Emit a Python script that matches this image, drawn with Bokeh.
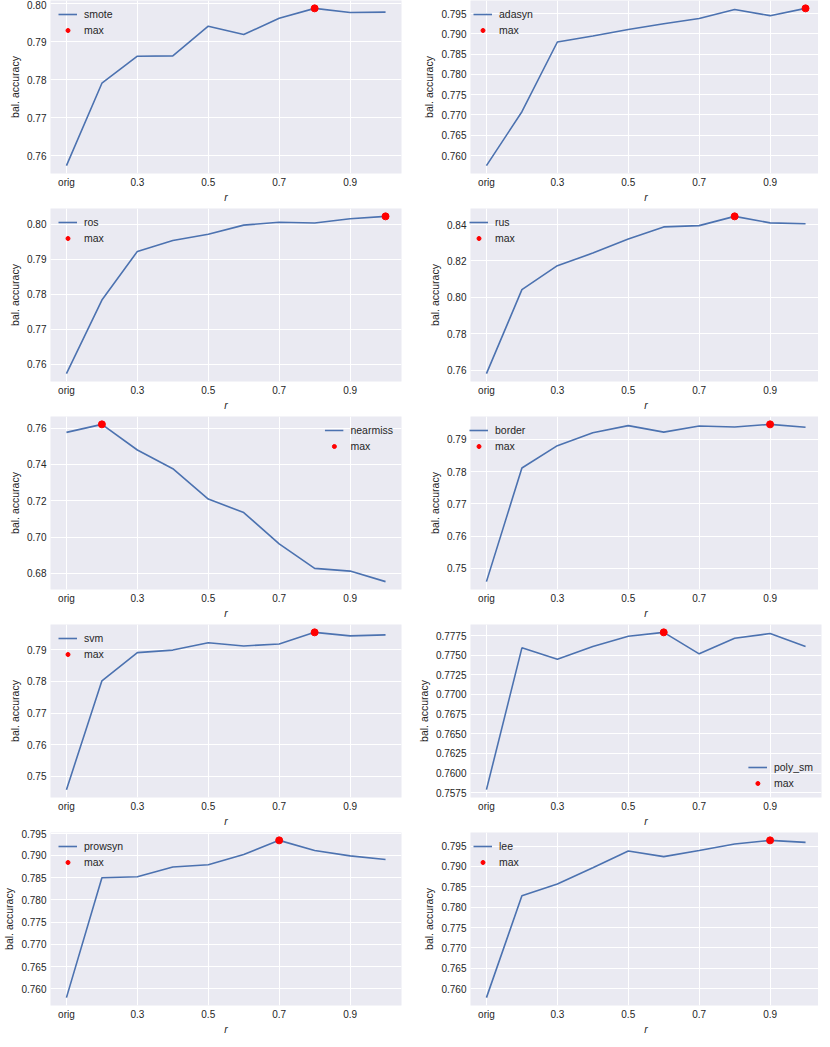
from bokeh.plotting import figure
from bokeh.layouts import gridplot
from bokeh.models import FixedTicker, PrintfTickFormatter, Range1d
from bokeh.embed import file_html
from bokeh.resources import INLINE

# ---- data ----
r_values = [0.1, 0.2, 0.3, 0.4, 0.5, 0.6, 0.7, 0.8, 0.9, 1.0]
x_ticks = [0.1, 0.3, 0.5, 0.7, 0.9]
x_tick_labels = ["orig", "0.3", "0.5", "0.7", "0.9"]

smote = [0.7574, 0.7791, 0.7862, 0.7863, 0.7941, 0.7919, 0.7962, 0.7988, 0.7977, 0.7978]
adasyn = [0.7575, 0.7708, 0.7880, 0.7895, 0.7911, 0.7925, 0.7938, 0.7960, 0.7945, 0.7963]
ros = [0.7573, 0.7783, 0.7922, 0.7953, 0.7971, 0.7997, 0.8005, 0.8003, 0.8015, 0.8022]
rus = [0.7580, 0.8042, 0.8174, 0.8243, 0.8320, 0.8387, 0.8394, 0.8445, 0.8409, 0.8404]
nearmiss = [0.7576, 0.7620, 0.7479, 0.7376, 0.7209, 0.7135, 0.6963, 0.6828, 0.6813, 0.6755]
border = [0.7459, 0.7811, 0.7880, 0.7920, 0.7942, 0.7922, 0.7941, 0.7938, 0.7946, 0.7937]
svm = [0.7458, 0.7802, 0.7891, 0.7899, 0.7922, 0.7912, 0.7918, 0.7955, 0.7944, 0.7947]
poly_sm = [0.7579, 0.77593, 0.77449, 0.7761, 0.7774, 0.77790, 0.77517, 0.77716, 0.77775, 0.7761]
prowsyn = [0.7580, 0.7850, 0.7852, 0.7874, 0.7879, 0.7902, 0.7934, 0.7911, 0.7899, 0.7891]
lee = [0.7578, 0.7828, 0.7857, 0.7897, 0.7938, 0.7924, 0.7939, 0.7955, 0.7964, 0.7959]

y_ticks_smote = [0.76, 0.77, 0.78, 0.79, 0.80]
y_ticks_adasyn = [0.760, 0.765, 0.770, 0.775, 0.780, 0.785, 0.790, 0.795]
y_ticks_ros = [0.76, 0.77, 0.78, 0.79, 0.80]
y_ticks_rus = [0.76, 0.78, 0.80, 0.82, 0.84]
y_ticks_nearmiss = [0.68, 0.70, 0.72, 0.74, 0.76]
y_ticks_border = [0.75, 0.76, 0.77, 0.78, 0.79]
y_ticks_svm = [0.75, 0.76, 0.77, 0.78, 0.79]
y_ticks_poly_sm = [0.7575, 0.7600, 0.7625, 0.7650, 0.7675, 0.7700, 0.7725, 0.7750, 0.7775]
y_ticks_prowsyn = [0.760, 0.765, 0.770, 0.775, 0.780, 0.785, 0.790, 0.795]
y_ticks_lee = [0.760, 0.765, 0.770, 0.775, 0.780, 0.785, 0.790, 0.795]

panels = [
    ("smote", smote, y_ticks_smote, "%.2f", "top_left"),
    ("adasyn", adasyn, y_ticks_adasyn, "%.3f", "top_left"),
    ("ros", ros, y_ticks_ros, "%.2f", "top_left"),
    ("rus", rus, y_ticks_rus, "%.2f", "top_left"),
    ("nearmiss", nearmiss, y_ticks_nearmiss, "%.2f", "top_right"),
    ("border", border, y_ticks_border, "%.2f", "top_left"),
    ("svm", svm, y_ticks_svm, "%.2f", "top_left"),
    ("poly_sm", poly_sm, y_ticks_poly_sm, "%.4f", "bottom_right"),
    ("prowsyn", prowsyn, y_ticks_prowsyn, "%.3f", "top_left"),
    ("lee", lee, y_ticks_lee, "%.3f", "top_left"),
]

FONT = "Liberation Sans"
TXT = "#262626"
BG = "#EAEAF2"
LINE = "#4C72B0"


def make_panel(i, name, vals, yticks, fmt, loc):
    left_col = (i % 2 == 0)
    first_row = i < 2
    xr0, xr1 = min(r_values), max(r_values)
    xp = (xr1 - xr0) * 0.05
    y0, y1 = min(vals), max(vals)
    yp = (y1 - y0) * 0.05
    p = figure(
        frame_width=351,
        frame_height=173,
        x_range=Range1d(xr0 - xp, xr1 + xp),
        y_range=Range1d(y0 - yp, y1 + yp),
        output_backend="svg",
        toolbar_location=None,
        min_border_left=41 if left_col else 50,
        min_border_right=13 if left_col else 3,
        min_border_top=0 if first_row else 3,
        min_border_bottom=20,
        background_fill_color=BG,
        border_fill_color="white",
        outline_line_color=None,
    )
    p.line(r_values, vals, line_color=LINE, line_width=1.6, legend_label=name)
    k = max(range(len(vals)), key=lambda j: vals[j])
    p.scatter([r_values[k]], [vals[k]], size=7, color="red", legend_label="max")

    p.xaxis.ticker = FixedTicker(ticks=x_ticks)
    p.xaxis.major_label_overrides = {t: lab for t, lab in zip(x_ticks, x_tick_labels)}
    p.yaxis.ticker = FixedTicker(ticks=yticks)
    p.yaxis.formatter = PrintfTickFormatter(format=fmt)

    p.xaxis.axis_label = "r"
    p.yaxis.axis_label = "bal. accuracy"
    for ax in (p.xaxis, p.yaxis):
        ax.axis_line_color = None
        ax.major_tick_line_color = None
        ax.minor_tick_line_color = None
        ax.major_tick_out = 0
        ax.major_tick_in = 0
        ax.major_label_text_font = FONT
        ax.major_label_text_font_size = "10px"
        ax.major_label_text_color = TXT
        ax.axis_label_text_font = FONT
        ax.axis_label_text_font_size = "10.5px"
        ax.axis_label_text_color = TXT
    p.xaxis.axis_label_text_font_style = "italic"
    p.yaxis.axis_label_text_font_style = "normal"
    p.xaxis.major_label_standoff = 3
    p.xaxis.axis_label_standoff = 0
    p.yaxis.major_label_standoff = 4
    p.yaxis.axis_label_standoff = 3

    p.grid.grid_line_color = "white"
    p.grid.grid_line_width = 1

    lg = p.legend[0]
    lg.location = loc
    lg.background_fill_alpha = 0
    lg.border_line_alpha = 0
    lg.margin = 4
    lg.padding = 4
    lg.spacing = 4
    lg.glyph_height = 10
    lg.glyph_width = 19
    lg.label_height = 10
    lg.label_standoff = 7
    lg.label_text_font = FONT
    lg.label_text_font_size = "10.5px"
    lg.label_text_color = TXT
    return p


figs = [make_panel(i, *pan) for i, pan in enumerate(panels)]
rows = [[figs[2 * j], figs[2 * j + 1]] for j in range(5)]
grid = gridplot(rows, toolbar_location=None)

open("out.html", "w").write(file_html(grid, INLINE))
